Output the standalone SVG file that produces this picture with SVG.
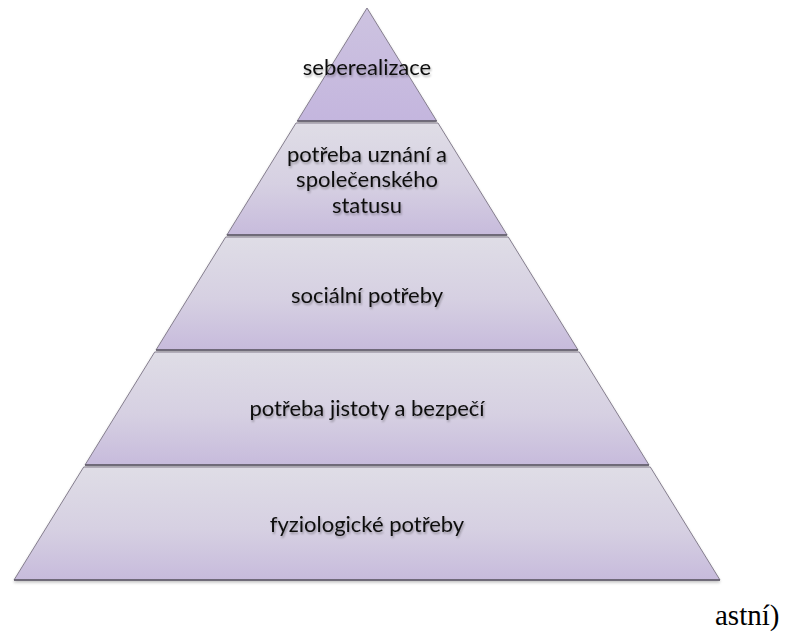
<svg xmlns="http://www.w3.org/2000/svg" width="787" height="636" viewBox="0 0 787 636">
<defs>
<linearGradient id="g" x1="0" y1="0" x2="0" y2="1">
<stop offset="0" stop-color="#dfdde6"/>
<stop offset="0.55" stop-color="#d6d0e2"/>
<stop offset="1" stop-color="#c7bbdc"/>
</linearGradient>
<linearGradient id="gt" x1="0" y1="0" x2="0" y2="1">
<stop offset="0" stop-color="#cdc3e0"/>
<stop offset="1" stop-color="#c4b6de"/>
</linearGradient>
<filter id="sh" x="-10%" y="-10%" width="120%" height="130%">
<feGaussianBlur in="SourceAlpha" stdDeviation="1.5"/>
<feOffset dy="2"/>
<feComponentTransfer><feFuncA type="linear" slope="0.25"/></feComponentTransfer>
<feMerge><feMergeNode/><feMergeNode in="SourceGraphic"/></feMerge>
</filter>
<filter id="tsh" x="-5%" y="-20%" width="110%" height="150%">
<feGaussianBlur in="SourceAlpha" stdDeviation="1"/>
<feOffset dx="0.5" dy="1.5"/>
<feComponentTransfer><feFuncA type="linear" slope="0.3"/></feComponentTransfer>
<feMerge><feMergeNode/><feMergeNode in="SourceGraphic"/></feMerge>
</filter>
</defs>
<style>
.band{fill:url(#g);stroke:#857e8e;stroke-width:1;filter:url(#sh)}
.top{fill:url(#gt);stroke:#857e8e;stroke-width:1;filter:url(#sh)}
.edge{stroke:#5d5866;stroke-width:1.6}
.t{font-family:Lato,"Liberation Sans",sans-serif;font-size:22px;fill:#111;text-anchor:middle;filter:url(#tsh)}
.s{font-family:"Liberation Serif",serif;font-size:29px;fill:#000}
</style>
<g id="level5">
<polygon class="top" points="367,8 436.7,121 297.3,121"/>
<line class="edge" x1="297.3" y1="121" x2="436.7" y2="121"/>
<text class="t" x="367" y="75">seberealizace</text>
</g>
<g id="level4">
<polygon class="band" points="296,123 438,123 507.1,235 226.9,235"/>
<line class="edge" x1="226.9" y1="235" x2="507.1" y2="235"/>
<text class="t" x="367" y="162">potřeba uznání a</text>
<text class="t" x="367" y="187">společenského</text>
<text class="t" x="367" y="213">statusu</text>
</g>
<g id="level3">
<polygon class="band" points="225.7,237 508.3,237 578,350 156,350"/>
<line class="edge" x1="156" y1="350" x2="578" y2="350"/>
<text class="t" x="367" y="303">sociální potřeby</text>
</g>
<g id="level2">
<polygon class="band" points="154.7,352 579.3,352 649,465 85,465"/>
<line class="edge" x1="85" y1="465" x2="649" y2="465"/>
<text class="t" x="367" y="416">potřeba jistoty a bezpečí</text>
</g>
<g id="level1">
<polygon class="band" points="83.7,467 650.3,467 720,580 14,580"/>
<line class="edge" x1="14" y1="580" x2="720" y2="580" stroke="#8a8592"/>
<text class="t" x="367" y="532">fyziologické potřeby</text>
</g>
<g id="connectors"/>
<text class="s" x="715" y="625">astní)</text>
</svg>
